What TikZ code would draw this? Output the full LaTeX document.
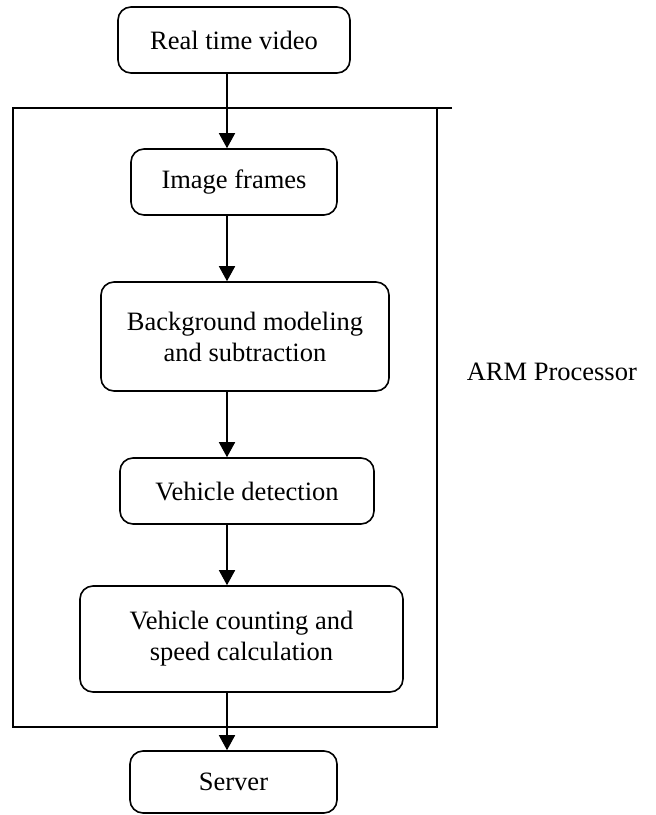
\documentclass[tikz,border=0pt]{standalone}
\usepackage{fontspec}
\setmainfont{Liberation Serif}
\usetikzlibrary{arrows.meta}

\begin{document}
\begin{tikzpicture}[x=1pt, y=-1pt, line width=1.6pt,
    box/.style={draw, rounded corners=13pt, align=center, inner sep=0pt,
        font=\fontsize{26.5}{31}\selectfont},
    flow/.style={-{Triangle[width=16pt,length=15pt]}}]
    \useasboundingbox (0,0) rectangle (656,815);
    \node[box, minimum width=232pt, minimum height=66pt] (video) at (234,40) {Real time video};
    \node[box, minimum width=206pt, minimum height=66pt] (frames) at (234,182) {Image frames};
    \node[box, minimum width=288pt, minimum height=109pt] (bgsub) at (245,336.5) {Background modeling\\and subtraction};
    \node[box, minimum width=254pt, minimum height=66pt] (detect) at (247,491) {Vehicle detection};
    \node[box, minimum width=323pt, minimum height=106pt] (count) at (241.5,639) {Vehicle counting and\\speed calculation};
    \node[box, minimum width=207pt, minimum height=62pt] (server) at (233.5,782) {Server};
    \coordinate (axis) at (227,0);
    \draw[flow] (video.south -| axis) -- (frames.north -| axis);
    \draw[flow] (frames.south -| axis) -- (bgsub.north -| axis);
    \draw[flow] (bgsub.south -| axis) -- (detect.north -| axis);
    \draw[flow] (detect.south -| axis) -- (count.north -| axis);
    \draw[flow] (count.south -| axis) -- (server.north -| axis);
    \draw[line width=2pt] (452,108) -- (13,108) -- (13,727) -- (436.5,727) -- (436.5,108);
    \node[anchor=west, inner sep=0pt, font=\fontsize{26.5}{31}\selectfont] (arm) at (466,372) {ARM Processor};
\end{tikzpicture}
\end{document}
